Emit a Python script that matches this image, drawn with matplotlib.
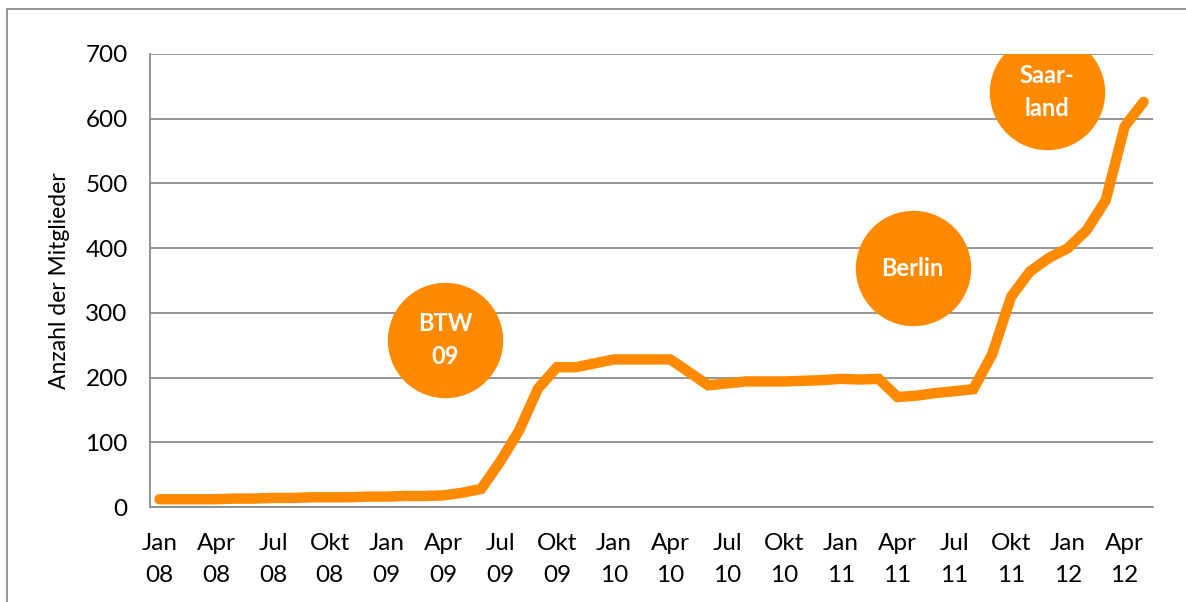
import matplotlib
matplotlib.use("Agg")
import matplotlib.pyplot as plt
from matplotlib.patches import Rectangle

plt.rcParams["font.family"] = ["Lato", "DejaVu Sans"]

# monthly members, Jan 08 .. May 12
months = ["Jan", "Feb", "Mar", "Apr", "Mai", "Jun", "Jul", "Aug", "Sep", "Okt", "Nov", "Dez"]
years = ["08", "09", "10", "11", "12"]
members = [12, 12, 12, 12, 13, 13, 14, 14, 15, 15, 15, 16,
           16, 17, 17, 18, 22, 28, 70, 118, 183, 216, 216, 222,
           228, 228, 228, 228, 208, 188, 191, 194, 194, 194, 195, 196,
           198, 197, 198, 170, 172, 176, 179, 182, 236, 325, 364, 385,
           400, 428, 474, 588, 626]
labels = [months[i % 12] + "\n" + years[i // 12] for i in range(len(members))]

events = ["BTW\n09", "Berlin", "Saar-\nland"]
event_x = [15.1, 39.8, 46.9]
event_y = [258, 369, 641]

orange = "#FF8A00"
grid_col = "#8C8C8C"

fig = plt.figure(figsize=(11.86, 6.02), dpi=100)
ax = fig.add_axes([0.1265, 0.1578, 0.9722 - 0.1265, 0.9103 - 0.1578])

x = list(range(len(members)))
ax.plot(x, members, color=orange, lw=7.5, solid_capstyle="round",
        solid_joinstyle="miter", zorder=4)

ax.scatter(event_x, event_y, s=6900, color=orange, zorder=3, linewidths=0)
for ex, ey, t in zip(event_x, event_y, events):
    ax.text(ex, ey, t, color="white", fontsize=17, fontweight="bold",
            ha="center", va="center", linespacing=1.5, zorder=5)

ax.set_xlim(-0.5, len(members) - 0.5)
ax.set_ylim(0, 700)
ax.set_yticks(range(0, 701, 100))
ax.set_xticks(x[::3])
ax.set_xticklabels(labels[::3], linespacing=1.6)
ax.tick_params(length=0, labelsize=17.5, colors="black")
ax.tick_params(axis="y", pad=16)
ax.tick_params(axis="x", pad=19)
ax.yaxis.grid(True, color=grid_col, lw=1.3, zorder=1)
ax.set_axisbelow(True)

for side in ["top", "right"]:
    ax.spines[side].set_visible(False)
for side in ["left", "bottom"]:
    ax.spines[side].set_color(grid_col)
    ax.spines[side].set_linewidth(1.3)

ax.set_ylabel("Anzahl der Mitglieder", fontsize=16.5, labelpad=11)

fig.patches.append(Rectangle((7 / 1186, -0.1), 1.2, 1.1 - 9 / 602,
                             transform=fig.transFigure, fill=False,
                             edgecolor=grid_col, lw=1.3))

fig.savefig("out.png", dpi=100)
